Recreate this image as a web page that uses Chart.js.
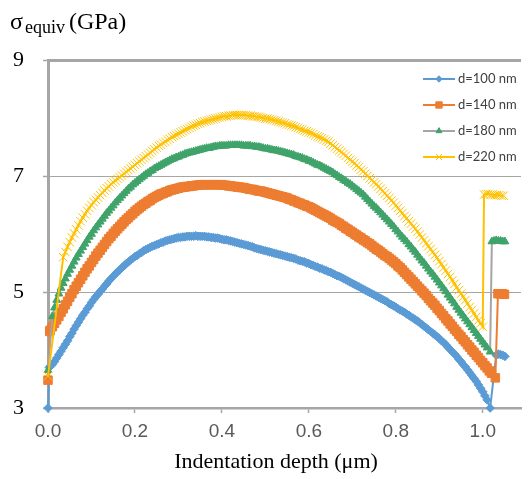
<!DOCTYPE html>
<html>
<head>
<meta charset="utf-8">
<title>Equivalent stress vs indentation depth</title>
<script src="https://cdn.jsdelivr.net/npm/chart.js@4.4.0/dist/chart.umd.min.js"></script>
<style>
  body { margin: 0; background: #fff; }
  canvas { display: block; }
</style>
</head>
<body>
<canvas id="stressChart" width="528" height="479"></canvas>
<script>
const labels = ["d=100 nm", "d=140 nm", "d=180 nm", "d=220 nm"];

// indentation depth (um) shared by the main part of every curve
const depth = [
  0.005, 0.010, 0.015, 0.020, 0.025, 0.030, 0.035, 0.040, 0.045, 0.050,
  0.055, 0.060, 0.065, 0.070, 0.075, 0.080, 0.085, 0.090, 0.095, 0.100,
  0.105, 0.110, 0.115, 0.120, 0.125, 0.130, 0.135, 0.140, 0.145, 0.150,
  0.155, 0.160, 0.165, 0.170, 0.175, 0.180, 0.185, 0.190, 0.195, 0.200,
  0.205, 0.210, 0.215, 0.220, 0.225, 0.230, 0.235, 0.240, 0.245, 0.250,
  0.255, 0.260, 0.265, 0.270, 0.275, 0.280, 0.285, 0.290, 0.295, 0.300,
  0.305, 0.310, 0.315, 0.320, 0.325, 0.330, 0.335, 0.340, 0.345, 0.350,
  0.355, 0.360, 0.365, 0.370, 0.375, 0.380, 0.385, 0.390, 0.395, 0.400,
  0.405, 0.410, 0.415, 0.420, 0.425, 0.430, 0.435, 0.440, 0.445, 0.450,
  0.455, 0.460, 0.465, 0.470, 0.475, 0.480, 0.485, 0.490, 0.495, 0.500,
  0.505, 0.510, 0.515, 0.520, 0.525, 0.530, 0.535, 0.540, 0.545, 0.550,
  0.555, 0.560, 0.565, 0.570, 0.575, 0.580, 0.585, 0.590, 0.595, 0.600,
  0.605, 0.610, 0.615, 0.620, 0.625, 0.630, 0.635, 0.640, 0.645, 0.650,
  0.655, 0.660, 0.665, 0.670, 0.675, 0.680, 0.685, 0.690, 0.695, 0.700,
  0.705, 0.710, 0.715, 0.720, 0.725, 0.730, 0.735, 0.740, 0.745, 0.750,
  0.755, 0.760, 0.765, 0.770, 0.775, 0.780, 0.785, 0.790, 0.795, 0.800,
  0.805, 0.810, 0.815, 0.820, 0.825, 0.830, 0.835, 0.840, 0.845, 0.850,
  0.855, 0.860, 0.865, 0.870, 0.875, 0.880, 0.885, 0.890, 0.895, 0.900,
  0.905, 0.910, 0.915, 0.920, 0.925, 0.930, 0.935, 0.940, 0.945, 0.950,
  0.955, 0.960, 0.965, 0.970, 0.975, 0.980, 0.985, 0.990, 0.995, 1.000,
  1.005, 1.010, 1.015, 1.020
];

// equivalent stress (GPa) on the depth grid above
const sigma100 = [
  3.72, 3.75, 3.80, 3.86, 3.92, 3.98, 4.04, 4.10, 4.16, 4.23,
  4.29, 4.36, 4.42, 4.48, 4.54, 4.60, 4.65, 4.71, 4.76, 4.82,
  4.87, 4.92, 4.96, 5.01, 5.05, 5.10, 5.14, 5.19, 5.23, 5.27,
  5.31, 5.35, 5.38, 5.42, 5.45, 5.49, 5.52, 5.55, 5.58, 5.61,
  5.63, 5.66, 5.68, 5.71, 5.73, 5.75, 5.77, 5.79, 5.80, 5.82,
  5.83, 5.85, 5.86, 5.88, 5.89, 5.90, 5.91, 5.92, 5.93, 5.94,
  5.94, 5.95, 5.95, 5.96, 5.96, 5.96, 5.96, 5.97, 5.96, 5.96,
  5.96, 5.96, 5.95, 5.95, 5.94, 5.94, 5.93, 5.93, 5.92, 5.91,
  5.90, 5.90, 5.89, 5.88, 5.87, 5.86, 5.85, 5.84, 5.83, 5.82,
  5.81, 5.80, 5.79, 5.78, 5.76, 5.75, 5.74, 5.73, 5.72, 5.71,
  5.70, 5.69, 5.68, 5.67, 5.66, 5.65, 5.64, 5.63, 5.62, 5.61,
  5.60, 5.59, 5.58, 5.57, 5.55, 5.54, 5.53, 5.52, 5.50, 5.49,
  5.47, 5.46, 5.44, 5.43, 5.41, 5.40, 5.38, 5.37, 5.35, 5.34,
  5.32, 5.30, 5.28, 5.27, 5.25, 5.23, 5.21, 5.19, 5.17, 5.15,
  5.13, 5.11, 5.09, 5.07, 5.05, 5.03, 5.01, 4.99, 4.97, 4.95,
  4.93, 4.91, 4.89, 4.87, 4.85, 4.83, 4.80, 4.78, 4.76, 4.74,
  4.71, 4.69, 4.67, 4.65, 4.62, 4.60, 4.57, 4.55, 4.52, 4.50,
  4.47, 4.44, 4.41, 4.38, 4.35, 4.32, 4.29, 4.26, 4.23, 4.20,
  4.16, 4.13, 4.09, 4.05, 4.01, 3.97, 3.93, 3.89, 3.84, 3.80,
  3.75, 3.71, 3.66, 3.61, 3.56, 3.51, 3.46, 3.40, 3.34, 3.28,
  3.21, 3.14, null, null
];
const sigma140 = [
  4.34, 4.40, 4.46, 4.52, 4.58, 4.65, 4.71, 4.78, 4.84, 4.91,
  4.97, 5.04, 5.10, 5.16, 5.22, 5.28, 5.34, 5.40, 5.45, 5.51,
  5.56, 5.62, 5.67, 5.72, 5.77, 5.82, 5.87, 5.92, 5.96, 6.01,
  6.05, 6.09, 6.13, 6.17, 6.21, 6.25, 6.28, 6.32, 6.35, 6.39,
  6.42, 6.45, 6.48, 6.51, 6.53, 6.56, 6.58, 6.61, 6.63, 6.65,
  6.67, 6.69, 6.70, 6.72, 6.73, 6.75, 6.76, 6.77, 6.78, 6.79,
  6.80, 6.81, 6.81, 6.82, 6.82, 6.83, 6.83, 6.84, 6.84, 6.85,
  6.85, 6.85, 6.85, 6.85, 6.85, 6.85, 6.85, 6.85, 6.85, 6.85,
  6.84, 6.84, 6.83, 6.83, 6.82, 6.82, 6.81, 6.81, 6.80, 6.80,
  6.79, 6.78, 6.77, 6.77, 6.76, 6.75, 6.74, 6.74, 6.73, 6.72,
  6.71, 6.70, 6.69, 6.68, 6.67, 6.66, 6.65, 6.64, 6.63, 6.62,
  6.60, 6.59, 6.57, 6.56, 6.54, 6.53, 6.51, 6.50, 6.48, 6.47,
  6.45, 6.43, 6.41, 6.39, 6.37, 6.35, 6.33, 6.31, 6.29, 6.27,
  6.24, 6.22, 6.20, 6.18, 6.15, 6.13, 6.10, 6.08, 6.05, 6.03,
  6.00, 5.98, 5.95, 5.93, 5.90, 5.88, 5.85, 5.83, 5.80, 5.77,
  5.74, 5.72, 5.69, 5.66, 5.63, 5.61, 5.58, 5.55, 5.52, 5.49,
  5.45, 5.42, 5.38, 5.34, 5.30, 5.26, 5.22, 5.18, 5.14, 5.10,
  5.06, 5.02, 4.98, 4.94, 4.89, 4.85, 4.81, 4.77, 4.72, 4.68,
  4.63, 4.59, 4.54, 4.50, 4.45, 4.41, 4.36, 4.32, 4.27, 4.23,
  4.18, 4.14, 4.09, 4.05, 4.00, 3.96, 3.91, 3.87, 3.82, 3.78,
  3.73, 3.69, 3.64, 3.60
];
const sigma180 = [
  null, 4.58, 4.73, 4.86, 4.97, 5.07, 5.15, 5.23, 5.31, 5.38,
  5.45, 5.52, 5.59, 5.65, 5.71, 5.77, 5.83, 5.89, 5.95, 6.00,
  6.06, 6.11, 6.16, 6.21, 6.26, 6.31, 6.36, 6.40, 6.45, 6.49,
  6.54, 6.58, 6.62, 6.66, 6.70, 6.74, 6.78, 6.81, 6.85, 6.88,
  6.91, 6.94, 6.97, 7.00, 7.03, 7.05, 7.08, 7.10, 7.13, 7.15,
  7.17, 7.19, 7.21, 7.23, 7.25, 7.27, 7.29, 7.30, 7.32, 7.33,
  7.35, 7.36, 7.38, 7.39, 7.40, 7.41, 7.42, 7.43, 7.44, 7.45,
  7.46, 7.47, 7.48, 7.48, 7.49, 7.50, 7.51, 7.51, 7.52, 7.52,
  7.52, 7.52, 7.53, 7.53, 7.53, 7.53, 7.53, 7.53, 7.53, 7.52,
  7.52, 7.52, 7.52, 7.51, 7.51, 7.50, 7.50, 7.49, 7.48, 7.47,
  7.47, 7.46, 7.45, 7.44, 7.44, 7.43, 7.42, 7.41, 7.40, 7.39,
  7.38, 7.37, 7.36, 7.34, 7.33, 7.32, 7.31, 7.29, 7.28, 7.26,
  7.25, 7.23, 7.21, 7.19, 7.18, 7.16, 7.14, 7.12, 7.10, 7.08,
  7.06, 7.03, 7.01, 6.98, 6.96, 6.93, 6.91, 6.88, 6.86, 6.83,
  6.80, 6.77, 6.74, 6.71, 6.68, 6.64, 6.60, 6.56, 6.52, 6.48,
  6.45, 6.41, 6.37, 6.33, 6.29, 6.25, 6.21, 6.17, 6.13, 6.08,
  6.04, 5.99, 5.95, 5.91, 5.87, 5.82, 5.78, 5.73, 5.69, 5.64,
  5.59, 5.54, 5.50, 5.45, 5.40, 5.35, 5.31, 5.26, 5.21, 5.16,
  5.11, 5.06, 5.01, 4.95, 4.90, 4.85, 4.80, 4.74, 4.69, 4.64,
  4.59, 4.54, 4.49, 4.44, 4.39, 4.34, 4.29, 4.24, 4.19, 4.14,
  4.09, 4.04, null, null
];
const sigma220 = [
  null, null, null, null, null, null, null, 5.69, 5.78, 5.86,
  5.94, 6.01, 6.08, 6.15, 6.22, 6.28, 6.34, 6.40, 6.45, 6.50,
  6.55, 6.59, 6.63, 6.67, 6.71, 6.75, 6.79, 6.82, 6.86, 6.89,
  6.92, 6.95, 6.98, 7.01, 7.04, 7.07, 7.10, 7.13, 7.16, 7.19,
  7.22, 7.25, 7.28, 7.31, 7.34, 7.37, 7.40, 7.43, 7.46, 7.49,
  7.52, 7.54, 7.57, 7.59, 7.62, 7.64, 7.67, 7.69, 7.71, 7.73,
  7.75, 7.77, 7.79, 7.81, 7.83, 7.85, 7.87, 7.88, 7.90, 7.91,
  7.93, 7.94, 7.95, 7.96, 7.97, 7.98, 7.99, 8.00, 8.01, 8.02,
  8.03, 8.03, 8.04, 8.04, 8.05, 8.05, 8.05, 8.05, 8.05, 8.05,
  8.05, 8.04, 8.04, 8.03, 8.03, 8.02, 8.02, 8.01, 8.00, 7.99,
  7.99, 7.98, 7.97, 7.96, 7.95, 7.94, 7.93, 7.92, 7.91, 7.89,
  7.88, 7.87, 7.86, 7.84, 7.83, 7.81, 7.80, 7.78, 7.77, 7.75,
  7.74, 7.72, 7.70, 7.68, 7.67, 7.65, 7.63, 7.61, 7.59, 7.56,
  7.53, 7.50, 7.47, 7.44, 7.41, 7.38, 7.35, 7.31, 7.28, 7.25,
  7.22, 7.18, 7.15, 7.11, 7.08, 7.04, 7.00, 6.96, 6.93, 6.89,
  6.86, 6.82, 6.78, 6.74, 6.70, 6.66, 6.62, 6.58, 6.54, 6.49,
  6.45, 6.40, 6.36, 6.31, 6.27, 6.22, 6.18, 6.13, 6.09, 6.04,
  5.99, 5.94, 5.89, 5.84, 5.79, 5.74, 5.69, 5.64, 5.59, 5.53,
  5.48, 5.42, 5.37, 5.31, 5.26, 5.20, 5.14, 5.08, 5.03, 4.97,
  4.92, 4.86, 4.80, 4.74, 4.69, 4.63, 4.57, 4.51, 4.46, 4.40,
  null, null, null, null
];

// [depth, stress] points before and after the common grid
const head100 = [[0, 3.0], [0.003, 3.70]];
const head140 = [[0, 3.48], [0.004, 4.32]];
const head180 = [[0, 3.65]];
const head220 = [[0, 3.55], [0.035, 5.60]];
const tail100 = [[1.017, 3.0], [1.031, 3.91], [1.036, 3.93], [1.041, 3.92], [1.046, 3.91], [1.051, 3.89]];
const tail140 = [[1.029, 3.52], [1.035, 4.97], [1.040, 4.97], [1.045, 4.97], [1.050, 4.96]];
const tail180 = [[1.017, 3.97], [1.021, 5.87], [1.026, 5.88], [1.031, 5.89], [1.036, 5.88],
  [1.041, 5.88], [1.046, 5.87], [1.051, 5.87]];
const tail220 = [[1.003, 6.68], [1.008, 6.69], [1.013, 6.69], [1.018, 6.68], [1.023, 6.68],
  [1.028, 6.67], [1.033, 6.67], [1.038, 6.67], [1.043, 6.66], [1.048, 6.66]];

const yTicks = [3, 5, 7, 9];

function buildPoints(head, values, tail) {
  const pts = head.map((p) => ({ x: p[0], y: p[1] }));
  for (let i = 0; i < depth.length; i++) {
    if (values[i] !== null) pts.push({ x: depth[i], y: values[i] });
  }
  tail.forEach((p) => pts.push({ x: p[0], y: p[1] }));
  return pts;
}

function series(label, points, lineColor, markColor, style, radius, order) {
  return {
    label: label,
    data: points,
    showLine: true,
    borderColor: lineColor,
    borderWidth: 2,
    pointStyle: style,
    pointRadius: radius,
    pointBackgroundColor: markColor,
    pointBorderColor: markColor,
    pointBorderWidth: 1,
    tension: 0,
    clip: false,
    order: order,
  };
}

// legend drawn inside the plot, top right
const insideLegend = {
  id: "insideLegend",
  afterDraw(chart) {
    const ctx = chart.ctx;
    chart.data.datasets.forEach((ds, i) => {
      const y = 79 + i * 26;
      ctx.save();
      ctx.strokeStyle = ds.borderColor;
      ctx.lineWidth = 2;
      ctx.beginPath();
      ctx.moveTo(423, y);
      ctx.lineTo(455, y);
      ctx.stroke();
      ctx.fillStyle = ds.pointBackgroundColor;
      ctx.strokeStyle = ds.pointBorderColor;
      ctx.lineWidth = 1;
      Chart.helpers.drawPoint(ctx, {
        pointStyle: ds.pointStyle,
        radius: ds.pointRadius * 0.75,
        rotation: 0,
        borderWidth: 1,
      }, 439, y);
      ctx.fillStyle = "#404040";
      ctx.font = '13px "Lato"';
      ctx.textAlign = "left";
      ctx.textBaseline = "middle";
      ctx.fillText(ds.label, 458, y);
      ctx.restore();
    });
  },
};

// axis titles in serif, the y one with a subscript
const axisTitles = {
  id: "axisTitles",
  afterDraw(chart) {
    const ctx = chart.ctx;
    ctx.save();
    ctx.fillStyle = "#000";
    ctx.textBaseline = "alphabetic";
    ctx.textAlign = "left";
    ctx.font = '24px "Liberation Serif"';
    ctx.fillText("σ", 10, 29);
    let x = 10 + ctx.measureText("σ").width + 2;
    ctx.font = '18px "Liberation Serif"';
    ctx.fillText("equiv", x, 33);
    x += ctx.measureText("equiv").width + 4;
    ctx.font = '24px "Liberation Serif"';
    ctx.fillText("(GPa)", x, 29);

    ctx.font = '22px "Liberation Serif"';
    ctx.textAlign = "center";
    ctx.fillText("Indentation depth (μm)", 276, 468);
    ctx.restore();
  },
};

const stressChart = document.querySelector("#stressChart");

new Chart(stressChart, {
  type: "scatter",
  data: {
    datasets: [
      series(labels[0], buildPoints(head100, sigma100, tail100), "#5B9BD5", "#5B9BD5", "rectRot", 4.3, 4),
      series(labels[1], buildPoints(head140, sigma140, tail140), "#ED7D31", "#ED7D31", "rect", 6, 3),
      series(labels[2], buildPoints(head180, sigma180, tail180), "#A5A5A5", "#3FA36A", "triangle", 4.5, 2),
      series(labels[3], buildPoints(head220, sigma220, tail220), "#FFC000", "#FFC000", "crossRot", 6, 1),
    ],
  },
  options: {
    responsive: false,
    animation: false,
    events: [],
    layout: { padding: { top: 60, left: 0, right: 0, bottom: 0 } },
    plugins: {
      legend: { display: false },
      tooltip: { enabled: false },
    },
    scales: {
      x: {
        type: "linear",
        min: 0,
        max: 1.088,
        afterFit: (scale) => { scale.height = 71; },
        border: { color: "#A6A6A6", width: 2.5 },
        grid: {
          drawOnChartArea: false,
          drawTicks: true,
          tickLength: 5,
          tickColor: "#A6A6A6",
          tickWidth: 1.5,
        },
        ticks: {
          stepSize: 0.2,
          includeBounds: false,
          padding: 7,
          maxRotation: 0,
          color: "#595959",
          font: { family: "Liberation Sans", size: 19 },
          callback: (v) => v.toFixed(1),
        },
      },
      y: {
        type: "linear",
        min: yTicks[0],
        max: yTicks[yTicks.length - 1],
        afterFit: (scale) => { scale.width = 48; },
        afterBuildTicks: (scale) => { scale.ticks = yTicks.map((v) => ({ value: v })); },
        border: { color: "#A6A6A6", width: 3 },
        grid: {
          color: "#A6A6A6",
          lineWidth: (c) => (c.tick && c.tick.value === 9 ? 3 : 1),
          tickLength: 5,
          tickColor: "#A6A6A6",
          tickWidth: 1.5,
        },
        ticks: {
          padding: 19,
          color: "#000",
          font: { family: "Liberation Serif", size: 22 },
          callback: (v) => String(v),
        },
      },
    },
  },
  plugins: [insideLegend, axisTitles],
});
</script>
</body>
</html>
